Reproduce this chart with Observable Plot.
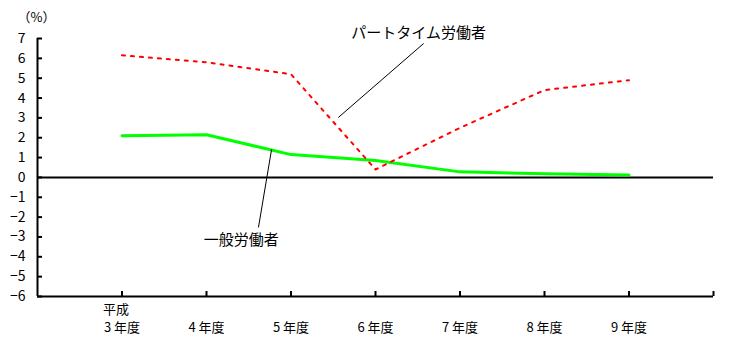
<!DOCTYPE html>
<html><head><meta charset="utf-8">
<script src="https://cdn.jsdelivr.net/npm/d3@7"></script>
<script src="https://cdn.jsdelivr.net/npm/@observablehq/plot@0.6"></script>
<style>
html,body{margin:0;padding:0;background:#fff;}
</style>
</head><body>
<div id="chart"></div>
<script>
// categories (position index on the axis) and labels
const catIndex = [1, 2, 3, 4, 5, 6, 7];
const catLabels = ["3 年度", "4 年度", "5 年度", "6 年度", "7 年度", "8 年度", "9 年度"];
const eraLabel = "平成";
// series values (%)
const partTime = [6.15, 5.8, 5.2, 0.4, 2.5, 4.4, 4.9];
const general = [2.1, 2.15, 1.15, 0.85, 0.28, 0.18, 0.12];
// y tick values
const yTicks = [-6, -5, -4, -3, -2, -1, 0, 1, 2, 3, 4, 5, 6, 7];
const xTicks = [1, 2, 3, 4, 5, 6, 7, 8];
// annotations (label position and leader line ends, in data units)
const annoNames = ["パートタイム労働者", "一般労働者"];
const annoX = [4.51, 2.41];
const annoY = [7.25, -3.17];
const leadX1 = [4.57, 2.77];
const leadY1 = [6.75, 1.41];
const leadX2 = [3.56, 2.615];
const leadY2 = [3.02, -2.52];

const ptData = catIndex.map((x, i) => ({x, y: partTime[i]}));
const genData = catIndex.map((x, i) => ({x, y: general[i]}));
const annos = annoNames.map((t, i) => ({t, x: annoX[i], y: annoY[i], x1: leadX1[i], y1: leadY1[i], x2: leadX2[i], y2: leadY2[i]}));
const font = "'Noto Sans CJK JP', sans-serif";

const chart = Plot.plot({
  width: 741,
  height: 361,
  marginLeft: 37,
  marginRight: 28,
  marginTop: 38,
  marginBottom: 65,
  style: {fontFamily: font, background: "#fff", color: "#000"},
  x: {domain: [0, 8]},
  y: {domain: [-6, 7]},
  marks: [
    Plot.axisY({ticks: yTicks, tickSize: 0, tickPadding: 12, fontSize: 14, label: null, fill: "#000"}),
    Plot.axisY({ticks: yTicks, tickSize: -5, tickFormat: () => "", strokeWidth: 2, label: null}),
    Plot.axisX({ticks: catIndex, tickSize: 0, tickPadding: 26, fontSize: 13, label: null, tickFormat: (d) => catLabels[d - 1], fill: "#000"}),
    Plot.axisX({ticks: xTicks, tickSize: -5, tickFormat: () => "", strokeWidth: 2, label: null}),
    Plot.text([eraLabel], {x: catIndex[0], frameAnchor: "bottom", dy: 17, dx: -19, textAnchor: "start", text: d => d, fontSize: 13, fill: "#000"}),
    Plot.ruleX([0], {stroke: "#000", strokeWidth: 2}),
    Plot.ruleY([0, -6], {stroke: "#000", strokeWidth: 2}),
    Plot.text(["（%）"], {frameAnchor: "top-left", dx: -20, dy: -26, text: d => d, fontSize: 13, textAnchor: "start", fill: "#000"}),
    Plot.line(genData, {x: "x", y: "y", stroke: "#00ff00", strokeWidth: 3}),
    Plot.line(ptData, {x: "x", y: "y", stroke: "#ff0000", strokeWidth: 2, strokeDasharray: "3,6"}),
    Plot.link(annos, {x1: "x1", y1: "y1", x2: "x2", y2: "y2", stroke: "#000", strokeWidth: 1}),
    Plot.text(annos, {x: "x", y: "y", text: "t", fontSize: 15, fill: "#000"})
  ]
});
document.getElementById("chart").appendChild(chart);
</script>
</body></html>
